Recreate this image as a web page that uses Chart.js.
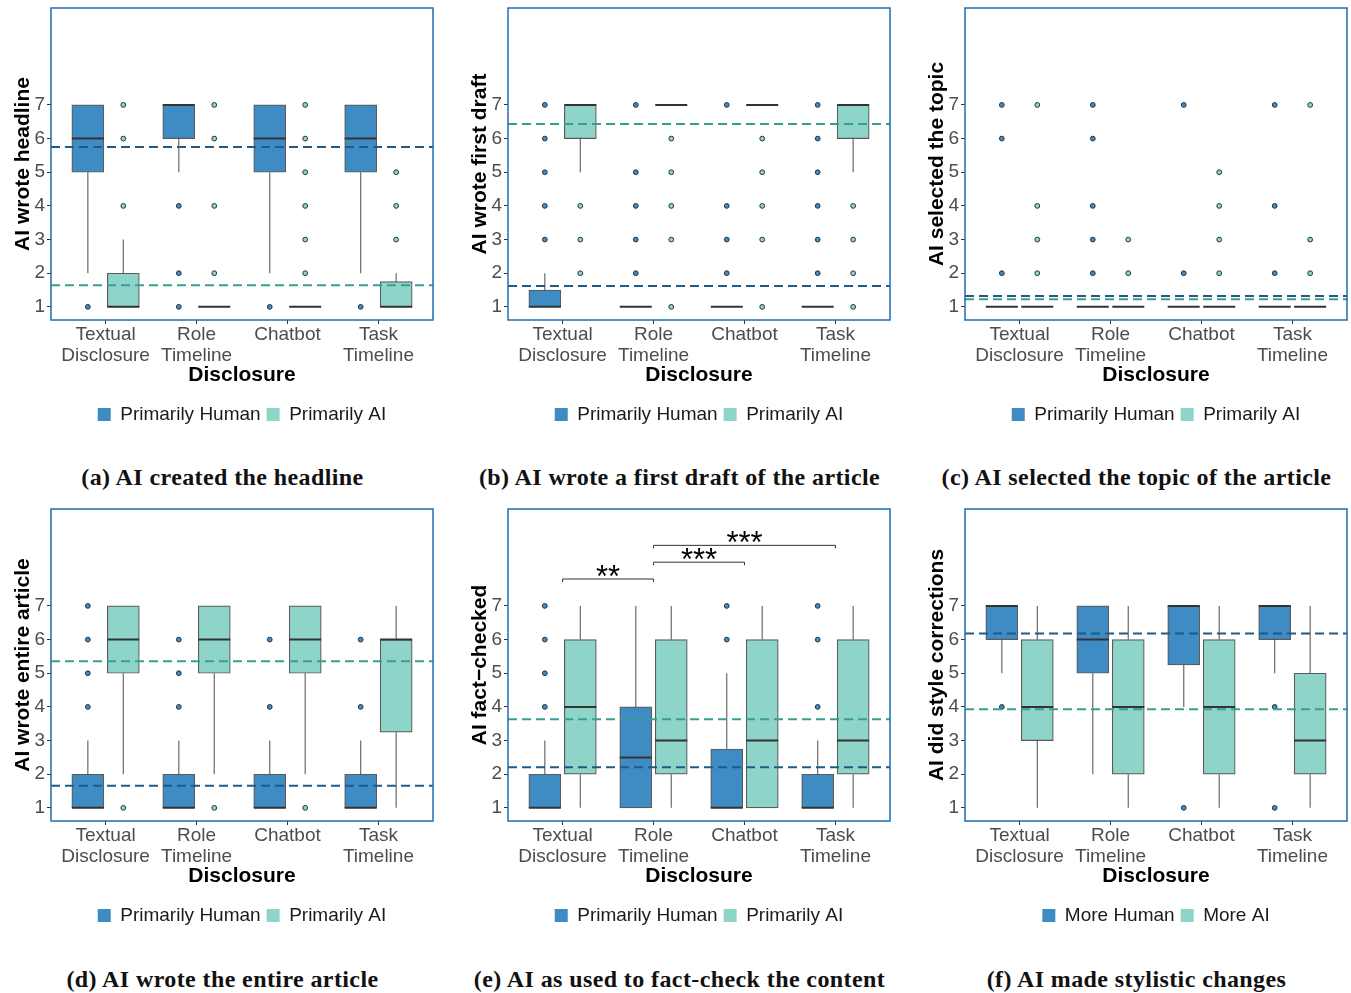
<!DOCTYPE html>
<html>
<head>
<meta charset="utf-8">
<script src="https://cdn.jsdelivr.net/npm/chart.js@4.4.0/dist/chart.umd.min.js"></script>
<style>
  body { margin: 0; background: #fff; width: 1351px; height: 993px; position: relative; overflow: hidden; }
  canvas { position: absolute; }
  .cap { position: absolute; width: 445px; text-align: center; font: bold 24px "Liberation Serif", serif;
         letter-spacing: 0.4px; color: #111; line-height: 28px; white-space: nowrap; }
</style>
</head>
<body>
<canvas id="pa" width="440" height="434" style="left:0px;top:0px"></canvas>
<canvas id="pb" width="440" height="434" style="left:457px;top:0px"></canvas>
<canvas id="pc" width="440" height="434" style="left:914px;top:0px"></canvas>
<canvas id="pd" width="440" height="434" style="left:0px;top:501px"></canvas>
<canvas id="pe" width="440" height="434" style="left:457px;top:501px"></canvas>
<canvas id="pf" width="440" height="434" style="left:914px;top:501px"></canvas>
<div class="cap" style="left:0px;top:463px">(a) AI created the headline</div>
<div class="cap" style="left:457px;top:463px">(b) AI wrote a first draft of the article</div>
<div class="cap" style="left:914px;top:463px">(c) AI selected the topic of the article</div>
<div class="cap" style="left:0px;top:965px">(d) AI wrote the entire article</div>
<div class="cap" style="left:457px;top:965px">(e) AI as used to fact-check the content</div>
<div class="cap" style="left:914px;top:965px">(f) AI made stylistic changes</div>
<script>
// categories on the x axis, y tick values
const categories = [['Textual', 'Disclosure'], ['Role', 'Timeline'], ['Chatbot'], ['Task', 'Timeline']];
const yTicks = [1, 2, 3, 4, 5, 6, 7];

// box stats per category: [lower whisker, q1, median, q3, upper whisker]
// (a) headline
const aHuman = [[2, 5, 6, 7, 7], [5, 6, 7, 7, 7], [2, 5, 6, 7, 7], [2, 5, 6, 7, 7]];
const aHumanOut = [[1], [4, 2, 1], [1], [1]];
const aAi = [[1, 1, 1, 2, 3], [1, 1, 1, 1, 1], [1, 1, 1, 1, 1], [1, 1, 1, 1.75, 2]];
const aAiOut = [[7, 6, 4], [7, 6, 4, 2], [7, 6, 5, 4, 3, 2], [5, 4, 3]];
const aMeans = [5.75, 1.64];

// (b) first draft
const bHuman = [[1, 1, 1, 1.5, 2], [1, 1, 1, 1, 1], [1, 1, 1, 1, 1], [1, 1, 1, 1, 1]];
const bHumanOut = [[7, 6, 5, 4, 3], [7, 5, 4, 3, 2], [7, 4, 3, 2], [7, 6, 5, 4, 3, 2]];
const bAi = [[5, 6, 7, 7, 7], [7, 7, 7, 7, 7], [7, 7, 7, 7, 7], [5, 6, 7, 7, 7]];
const bAiOut = [[4, 3, 2], [6, 5, 4, 3, 1], [6, 5, 4, 3, 1], [4, 3, 2, 1]];
const bMeans = [1.62, 6.43];

// (c) topic
const cHuman = [[1, 1, 1, 1, 1], [1, 1, 1, 1, 1], [1, 1, 1, 1, 1], [1, 1, 1, 1, 1]];
const cHumanOut = [[7, 6, 2], [7, 6, 4, 3, 2], [7, 2], [7, 4, 2]];
const cAi = [[1, 1, 1, 1, 1], [1, 1, 1, 1, 1], [1, 1, 1, 1, 1], [1, 1, 1, 1, 1]];
const cAiOut = [[7, 4, 3, 2], [3, 2], [5, 4, 3, 2], [7, 3, 2]];
const cMeans = [1.32, 1.23];

// (d) entire article
const dHuman = [[1, 1, 1, 2, 3], [1, 1, 1, 2, 3], [1, 1, 1, 2, 3], [1, 1, 1, 2, 3]];
const dHumanOut = [[7, 6, 5, 4], [6, 5, 4], [6, 4], [6, 4]];
const dAi = [[2, 5, 6, 7, 7], [2, 5, 6, 7, 7], [2, 5, 6, 7, 7], [1, 3.25, 6, 6, 7]];
const dAiOut = [[1], [1], [1], []];
const dMeans = [1.66, 5.36];

// (e) fact-check
const eHuman = [[1, 1, 1, 2, 3], [1, 1, 2.5, 4, 7], [1, 1, 1, 2.75, 5], [1, 1, 1, 2, 3]];
const eHumanOut = [[7, 6, 5, 4], [], [7, 6], [7, 6, 4]];
const eAi = [[1, 2, 4, 6, 7], [1, 2, 3, 6, 7], [1, 1, 3, 6, 7], [1, 2, 3, 6, 7]];
const eAiOut = [[], [], [], []];
const eMeans = [2.21, 3.63];
const eSigFrom = [1, 2, 2];
const eSigTo = [2, 3, 4];
const eSigLevel = [7.8, 8.3, 8.8];
const eSigText = ['**', '***', '***'];

// (f) style corrections
const fHuman = [[5, 6, 7, 7, 7], [2, 5, 6, 7, 7], [4, 5.25, 7, 7, 7], [5, 6, 7, 7, 7]];
const fHumanOut = [[4], [], [1], [4, 1]];
const fAi = [[1, 3, 4, 6, 7], [1, 2, 4, 6, 7], [1, 2, 4, 6, 7], [1, 2, 3, 5, 7]];
const fAiOut = [[], [], [], []];
const fMeans = [6.18, 3.93];

const HUMAN = '#3f8bc3';
const AI = '#8fd4c9';
const HUMAN_MEAN = '#1d5b8c';
const AI_MEAN = '#3a9d92';
const OFF = 0.195;

Chart.defaults.font.family = '"Liberation Sans", Arial, sans-serif';

function boxBars(stats, off) {
  return stats.map((s, i) => ({ x: i + 1 + off, y: [s[1], s[3]] }));
}
function outPoints(outs, off) {
  const pts = [];
  outs.forEach((list, i) => list.forEach(v => pts.push({ x: i + 1 + off, y: v })));
  return pts;
}

const boxExtras = {
  id: 'boxExtras',
  beforeDatasetsDraw(chart, args, opts) {
    // whiskers
    const { ctx, scales: { y } } = chart;
    ctx.save();
    ctx.strokeStyle = 'rgba(70,70,70,0.8)';
    ctx.lineWidth = 1.2;
    [opts.human, opts.ai].forEach((stats, d) => {
      const meta = chart.getDatasetMeta(d);
      stats.forEach((s, i) => {
        const cx = meta.data[i].x;
        ctx.beginPath();
        ctx.moveTo(cx, y.getPixelForValue(s[0]));
        ctx.lineTo(cx, y.getPixelForValue(s[1]));
        ctx.moveTo(cx, y.getPixelForValue(s[3]));
        ctx.lineTo(cx, y.getPixelForValue(s[4]));
        ctx.stroke();
      });
    });
    ctx.restore();
  },
  afterDatasetsDraw(chart, args, opts) {
    const { ctx, chartArea: { left, right, top, bottom }, scales: { x, y } } = chart;
    ctx.save();
    // medians
    ctx.strokeStyle = '#333';
    ctx.lineWidth = 2;
    [opts.human, opts.ai].forEach((stats, d) => {
      const meta = chart.getDatasetMeta(d);
      stats.forEach((s, i) => {
        const bar = meta.data[i];
        const my = y.getPixelForValue(s[2]);
        ctx.beginPath();
        ctx.moveTo(bar.x - bar.width / 2, my);
        ctx.lineTo(bar.x + bar.width / 2, my);
        ctx.stroke();
      });
    });
    // mean lines
    ctx.lineWidth = 2;
    ctx.setLineDash([9, 5]);
    [HUMAN_MEAN, AI_MEAN].forEach((c, k) => {
      const my = y.getPixelForValue(opts.means[k]);
      ctx.strokeStyle = c;
      ctx.beginPath();
      ctx.moveTo(left, my);
      ctx.lineTo(right, my);
      ctx.stroke();
    });
    ctx.setLineDash([]);
    // significance brackets
    if (opts.sig) {
      const sg = opts.sig;
      ctx.strokeStyle = '#333';
      ctx.lineWidth = 1;
      ctx.fillStyle = '#000';
      ctx.font = '31px "Liberation Sans", Arial, sans-serif';
      ctx.textAlign = 'center';
      ctx.textBaseline = 'alphabetic';
      sg.from.forEach((f, k) => {
        const x1 = x.getPixelForValue(f), x2 = x.getPixelForValue(sg.to[k]);
        const ly = y.getPixelForValue(sg.level[k]);
        ctx.beginPath();
        ctx.moveTo(x1, ly + 3);
        ctx.lineTo(x1, ly);
        ctx.lineTo(x2, ly);
        ctx.lineTo(x2, ly + 3);
        ctx.stroke();
        ctx.fillText(sg.text[k], (x1 + x2) / 2, ly + 8);
      });
    }
    // panel border
    ctx.strokeStyle = '#1f6db3';
    ctx.lineWidth = 1.5;
    ctx.strokeRect(left, top, right - left, bottom - top);
    ctx.restore();
  }
};

function makePanel(id, human, humanOut, ai, aiOut, means, yTitle, names, sig) {
  const ctx = document.getElementById(id).getContext('2d');
  return new Chart(ctx, {
    type: 'bar',
    data: {
      datasets: [
        { label: names[0], data: boxBars(human, -OFF), backgroundColor: HUMAN, borderColor: 'rgba(50,50,50,0.8)',
          borderWidth: 1.2, borderSkipped: false, grouped: false, barThickness: 32, maxBarThickness: 32 },
        { label: names[1], data: boxBars(ai, OFF), backgroundColor: AI, borderColor: 'rgba(50,50,50,0.8)',
          borderWidth: 1.2, borderSkipped: false, grouped: false, barThickness: 32, maxBarThickness: 32 },
        { type: 'scatter', data: outPoints(humanOut, -OFF), backgroundColor: HUMAN, borderColor: '#25323e',
          borderWidth: 1, pointRadius: 2.4 },
        { type: 'scatter', data: outPoints(aiOut, OFF), backgroundColor: AI, borderColor: '#25323e',
          borderWidth: 1, pointRadius: 2.4 }
      ]
    },
    options: {
      responsive: false,
      animation: false,
      devicePixelRatio: 1,
      events: [],
      layout: { padding: { top: 8, right: 7, left: 0, bottom: 0 } },
      plugins: {
        tooltip: { enabled: false },
        legend: {
          position: 'bottom',
          fullSize: false,
          labels: {
            boxWidth: 13, boxHeight: 13, padding: 6, color: '#1a1a1a', font: { size: 19 },
            generateLabels: () => names.map((n, k) => ({
              text: n, fillStyle: k ? AI : HUMAN, strokeStyle: k ? AI : HUMAN, lineWidth: 0,
              hidden: false, datasetIndex: k, fontColor: '#1a1a1a'
            }))
          }
        },
        boxExtras: { human: human, ai: ai, means: means, sig: sig }
      },
      scales: {
        x: {
          type: 'linear', min: 0.4, max: 4.6, offset: false,
          afterBuildTicks: s => { s.ticks = [1, 2, 3, 4].map(v => ({ value: v })); },
          ticks: { callback: v => categories[v - 1], color: '#4d4d4d', font: { size: 19, lineHeight: 1.1 },
                   padding: 0, autoSkip: false, maxRotation: 0 },
          grid: { drawOnChartArea: false, tickLength: 4, color: '#333', offset: false },
          border: { display: false },
          title: { display: true, text: 'Disclosure', color: '#000', font: { size: 21, weight: 'bold' },
                   padding: { top: 0, bottom: 11 } },
          afterFit: s => { s.height = 79; s.paddingLeft = 0; s.paddingRight = 0; }
        },
        y: {
          min: 0.61, max: 9.88,
          afterBuildTicks: s => { s.ticks = yTicks.map(v => ({ value: v })); },
          ticks: { color: '#4d4d4d', font: { size: 19 }, padding: 2 },
          grid: { drawOnChartArea: false, tickLength: 4, color: '#333' },
          border: { display: false },
          title: { display: true, text: yTitle, color: '#000', font: { size: 21, weight: 'bold' },
                   padding: { top: 11, bottom: 0 } },
          afterFit: s => { s.width = 51; s.paddingTop = 0; s.paddingBottom = 0; }
        }
      }
    },
    plugins: [boxExtras]
  });
}

const primNames = ['Primarily Human', 'Primarily AI'];
makePanel('pa', aHuman, aHumanOut, aAi, aAiOut, aMeans, 'AI wrote headline', primNames);
makePanel('pb', bHuman, bHumanOut, bAi, bAiOut, bMeans, 'AI wrote first draft', primNames);
makePanel('pc', cHuman, cHumanOut, cAi, cAiOut, cMeans, 'AI selected the topic', primNames);
makePanel('pd', dHuman, dHumanOut, dAi, dAiOut, dMeans, 'AI wrote entire article', primNames);
makePanel('pe', eHuman, eHumanOut, eAi, eAiOut, eMeans, 'AI fact\u2212checked', primNames,
  { from: eSigFrom, to: eSigTo, level: eSigLevel, text: eSigText });
makePanel('pf', fHuman, fHumanOut, fAi, fAiOut, fMeans, 'AI did style corrections', ['More Human', 'More AI']);
</script>
</body>
</html>
